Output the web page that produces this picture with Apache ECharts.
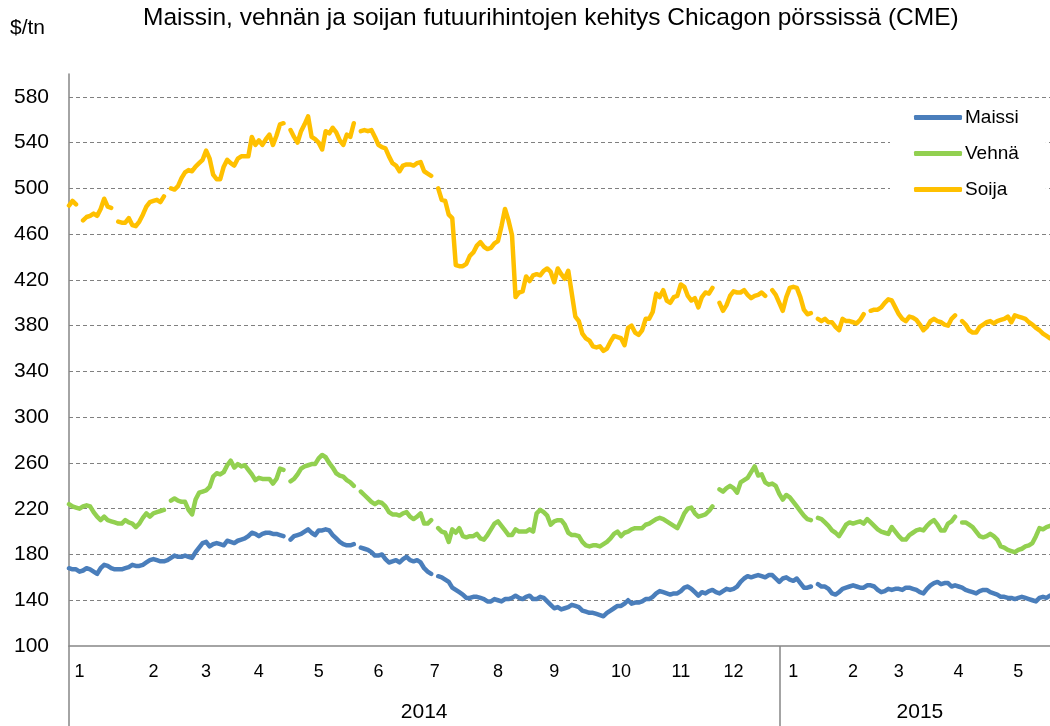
<!DOCTYPE html>
<html>
<head>
<meta charset="utf-8">
<script src="https://cdn.jsdelivr.net/npm/echarts@6/dist/echarts.min.js"></script>
<style>
html,body{margin:0;padding:0;background:#fff;}
#chart{width:1050px;height:726px;}
</style>
</head>
<body>
<div id="chart"></div>
<script>
// ---- Data (~1.25 trading days per slot) ----
const seriesNames = ['Maissi', 'Vehnä', 'Soija'];
const monthLabels = ['1','2','3','4','5','6','7','8','9','10','11','12','1','2','3','4','5'];
const monthLabelSlots = [3,24,39,54,71,88,104,122,138,157,174,189,206,223,236,253,270];
const yearLabels = ['2014','2015'];
const yearLabelSlots = [101,242];
const yearStartSlots = [0,202];
const yTicks = [100,140,180,220,260,300,340,380,420,460,500,540,580];

const maissi = [
168,167,167,165,166,168,167,165,163,168,
171,170,168,167,167,167,168,169,171,170,
170,171,173,175,176,175,174,174,175,177,
179,178,178,179,178,177,182,186,190,191,
187,189,190,189,188,192,191,190,192,193,
194,196,199,198,196,198,199,199,198,198,
197,196,null,193,196,197,198,200,202,199,
197,201,201,202,201,197,194,191,189,188,
188,189,null,186,185,184,182,179,179,180,
176,173,174,175,173,176,178,175,174,175,
173,168,165,163,null,161,160,158,156,151,
149,147,145,142,142,143,143,142,141,139,
139,141,140,139,141,141,142,144,142,141,
143,144,141,141,143,142,139,136,133,134,
132,133,134,136,135,134,131,130,129,129,
128,127,126,129,131,133,135,135,137,140,
137,138,138,139,141,141,143,146,148,147,
146,145,146,146,148,151,152,150,147,144,
147,146,148,149,147,146,148,150,149,150,
152,156,159,161,160,161,162,161,160,162,
162,159,156,159,160,158,157,159,155,151,
151,152,null,154,152,152,150,146,145,147,
150,151,152,153,152,151,151,153,153,152,
149,147,148,150,149,150,150,149,151,151,
150,149,147,146,150,153,155,156,154,155,
155,152,153,152,151,149,148,147,146,148,
149,149,147,146,145,143,143,142,142,141,
142,143,142,141,140,139,142,143,142,144
];

const vehna = [
224,222,221,220,222,223,222,217,213,210,
213,210,209,208,207,207,210,208,207,204,
207,212,216,213,216,217,218,219,null,227,
229,227,226,226,219,215,228,234,235,236,
239,248,251,250,252,258,262,256,259,257,
258,254,250,245,247,246,246,246,242,246,
255,254,null,244,246,250,255,257,258,259,
259,264,267,265,260,256,251,249,248,245,
243,240,null,235,232,229,226,224,226,225,
222,217,215,215,214,216,217,213,211,213,
216,207,207,210,null,203,200,199,191,202,
199,203,196,195,196,196,198,194,193,197,
202,207,209,205,201,197,197,202,200,200,
200,202,200,216,219,217,214,206,209,210,
210,206,199,197,197,196,191,188,187,188,
188,187,189,191,194,198,200,196,199,200,
202,203,203,203,206,207,209,211,212,211,
209,207,205,203,209,216,220,221,216,213,
214,215,218,222,null,237,235,238,240,238,
234,243,245,247,252,257,249,250,243,241,
242,240,233,228,232,230,226,222,218,214,
211,210,null,212,211,208,205,201,199,196,
201,206,208,207,208,209,207,211,208,205,
202,200,199,198,204,200,196,193,193,197,
199,201,202,201,205,208,210,206,201,201,
207,209,213,null,208,208,206,204,200,196,
195,196,198,196,193,187,186,184,183,182,
184,185,187,188,190,196,203,202,204,205
];

const soija = [
485,489,486,null,472,475,476,478,476,482,
491,484,483,null,471,470,470,474,468,467,
471,477,484,488,489,490,488,493,null,500,
499,502,509,514,516,515,519,522,525,533,
526,512,508,508,519,525,522,520,526,528,
528,528,545,538,542,538,543,547,538,546,
556,557,null,551,545,540,550,556,563,545,
543,540,534,550,548,553,549,542,538,547,
545,557,null,550,551,550,551,545,538,536,
535,528,522,520,515,520,521,521,520,522,
523,515,513,511,null,500,490,489,477,474,
433,432,432,434,441,444,450,453,449,447,
448,452,454,467,482,472,459,405,409,410,
423,419,424,425,424,428,430,427,418,430,
425,421,428,408,388,384,373,369,367,362,
361,362,358,360,366,371,370,369,363,378,
380,374,372,376,386,386,392,408,405,411,
402,400,405,406,416,414,406,402,404,396,
405,409,408,413,null,400,393,398,406,410,
409,409,411,407,404,406,407,409,406,null,
411,407,400,393,405,413,414,413,405,394,
390,391,null,386,384,386,383,383,379,376,
386,384,384,383,382,385,390,null,393,394,
394,396,400,403,402,396,390,386,384,388,
387,385,381,376,379,384,386,384,383,381,
380,386,389,null,384,381,376,374,374,379,
381,383,384,382,384,385,386,388,383,389,
388,387,386,383,381,378,376,373,371,369
];

const slots = maissi.map((_, i) => 'd' + i);

// ---- Chart ----
const FONT = '"Liberation Sans", Arial, sans-serif';
const chart = echarts.init(document.getElementById('chart'), null, {renderer: 'canvas'});
const lineStyleBase = {width: 4.5, cap: 'round', join: 'round'};
const colors = ['#4A7EBB', '#92D050', '#FFC000'];

chart.setOption({
  animation: false,
  backgroundColor: '#fff',
  textStyle: {fontFamily: FONT},
  color: colors,
  graphic: [
    {type: 'text', left: 10, top: 18, style: {text: '$/tn', font: '21px ' + FONT, fill: '#000'}},
    {type: 'text', left: 143, top: 6, style: {text: 'Maissin, vehnän ja soijan futuurihintojen kehitys Chicagon pörssissä (CME)', font: '24.5px ' + FONT, fill: '#000'}}
  ],
  grid: {left: 69, top: 74, right: 0, bottom: 80, containLabel: false},
  legend: {
    data: seriesNames,
    orient: 'vertical',
    left: 890, top: 100,
    backgroundColor: '#fff',
    padding: [8, 27, 10, 24],
    itemWidth: 48, itemHeight: 5, itemGap: 17,
    icon: 'roundRect',
    textStyle: {fontSize: 19, color: '#000', fontFamily: FONT, padding: [0, 0, 0, -2]}
  },
  xAxis: [
    {
      type: 'category', data: slots, boundaryGap: false,
      axisLine: {show: true, lineStyle: {color: '#868686', width: 1.5}},
      axisTick: {show: true, inside: false, length: 82, lineStyle: {color: '#868686', width: 1.5},
        interval: (idx) => yearStartSlots.indexOf(idx) >= 0},
      axisLabel: {show: true, margin: 17, fontSize: 18, color: '#000', fontFamily: FONT,
        interval: (idx) => monthLabelSlots.indexOf(idx) >= 0,
        formatter: (v, idx) => { const k = monthLabelSlots.indexOf(idx); return k >= 0 ? monthLabels[k] : ''; }},
      splitLine: {show: false}
    },
    {
      type: 'category', data: slots, boundaryGap: false, position: 'bottom',
      axisLine: {show: false}, axisTick: {show: false}, splitLine: {show: false},
      axisLabel: {show: true, margin: 56, fontSize: 21, color: '#000', fontFamily: FONT,
        interval: (idx) => yearLabelSlots.indexOf(idx) >= 0,
        formatter: (v, idx) => { const k = yearLabelSlots.indexOf(idx); return k >= 0 ? yearLabels[k] : ''; }}
    }
  ],
  yAxis: {
    type: 'value', min: yTicks[0], max: 600, interval: 40,
    axisLine: {show: true, lineStyle: {color: '#868686', width: 1.5}},
    axisTick: {show: false},
    axisLabel: {margin: 20, fontSize: 21, color: '#000', fontFamily: FONT, showMaxLabel: false},
    splitLine: {show: true, showMinLine: false, showMaxLine: false,
      lineStyle: {color: '#808080', type: [4, 3], width: 1}}
  },
  series: [
    {name: seriesNames[0], type: 'line', data: maissi, showSymbol: false, connectNulls: false, lineStyle: Object.assign({color: colors[0]}, lineStyleBase), z: 3},
    {name: seriesNames[1], type: 'line', data: vehna, showSymbol: false, connectNulls: false, lineStyle: Object.assign({color: colors[1]}, lineStyleBase), z: 3},
    {name: seriesNames[2], type: 'line', data: soija, showSymbol: false, connectNulls: false, lineStyle: Object.assign({color: colors[2]}, lineStyleBase), z: 3}
  ]
});
</script>
</body>
</html>
